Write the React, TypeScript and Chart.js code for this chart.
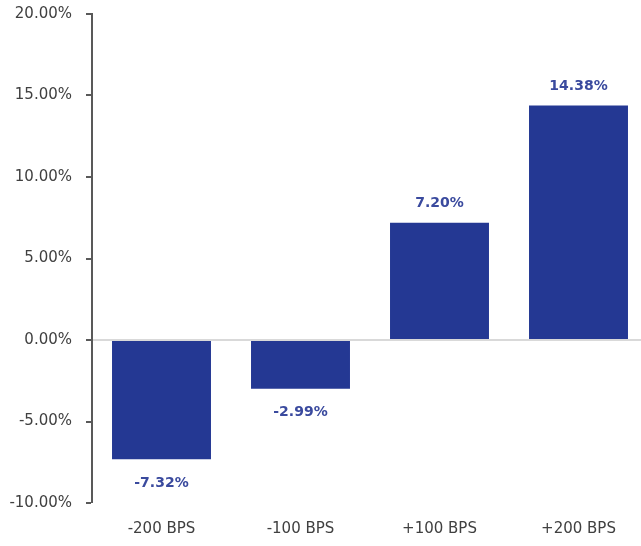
import React, { useEffect, useRef } from "react";
import { Chart, registerables } from "chart.js";

Chart.register(...registerables);

const categories = ["-200 BPS", "-100 BPS", "+100 BPS", "+200 BPS"];
const values = [-7.32, -2.99, 7.2, 14.38];
const yMin = -10;
const yMax = 20;
const yStep = 5;

const FONT = "'DejaVu Sans', sans-serif";

const valueLabels = {
  id: "valueLabels",
  afterDatasetsDraw(chart: any) {
    const ctx = chart.ctx;
    const meta = chart.getDatasetMeta(0);
    ctx.save();
    ctx.font = "bold 14px " + FONT;
    ctx.fillStyle = "#3a4a9e";
    ctx.textAlign = "center";
    ctx.textBaseline = "middle";
    meta.data.forEach((bar: any, i: number) => {
      const v = values[i];
      const y = v >= 0 ? bar.y - 19 : bar.y + 24;
      ctx.fillText(v.toFixed(2) + "%", bar.x, y);
    });
    ctx.restore();
  },
};

export default function App() {
  const ref = useRef<HTMLCanvasElement | null>(null);
  useEffect(() => {
    if (!ref.current) return;
    const chart = new Chart(ref.current, {
      type: "bar",
      data: {
        labels: categories,
        datasets: [
          {
            data: values,
            backgroundColor: "#243893",
            borderWidth: 0,
            barPercentage: 0.712,
            categoryPercentage: 1,
          },
        ],
      },
      options: {
        responsive: false,
        animation: false,
        layout: { padding: { top: 14, left: 0, right: 0, bottom: 0 } },
        plugins: {
          legend: { display: false },
          tooltip: { enabled: false },
        },
        scales: {
          x: {
            grid: { display: false, drawTicks: false },
            border: { display: false },
            ticks: {
              padding: 17,
              color: "#404040",
              font: { family: FONT, size: 15 },
              maxRotation: 0,
            },
            afterFit: (s: any) => {
              s.height = 43;
              s.paddingLeft = 0;
              s.paddingRight = 0;
            },
          },
          y: {
            min: yMin,
            max: yMax,
            ticks: {
              stepSize: yStep,
              padding: 14,
              color: "#404040",
              font: { family: FONT, size: 15 },
              callback: (v: any) => Number(v).toFixed(2) + "%",
            },
            grid: {
              drawTicks: true,
              tickLength: 6,
              lineWidth: (c: any) => (c.tick && c.tick.value === 0 ? 2 : 0),
              color: (c: any) => (c.tick && c.tick.value === 0 ? "#d9d9d9" : "rgba(0,0,0,0)"),
              tickColor: "#595959",
              tickWidth: 2,
            },
            border: { display: true, color: "#595959", width: 2 },
            afterFit: (s: any) => {
              s.width = 92;
              s.paddingTop = 0;
              s.paddingBottom = 0;
            },
          },
        },
      },
      plugins: [valueLabels],
    });
    return () => chart.destroy();
  }, []);
  return (
    <div style={{ position: "fixed", left: 0, top: 0, width: 641, height: 546, overflow: "hidden", background: "#fff" }}>
      <canvas ref={ref} width={648} height={546} style={{ display: "block" }} />
    </div>
  );
}
